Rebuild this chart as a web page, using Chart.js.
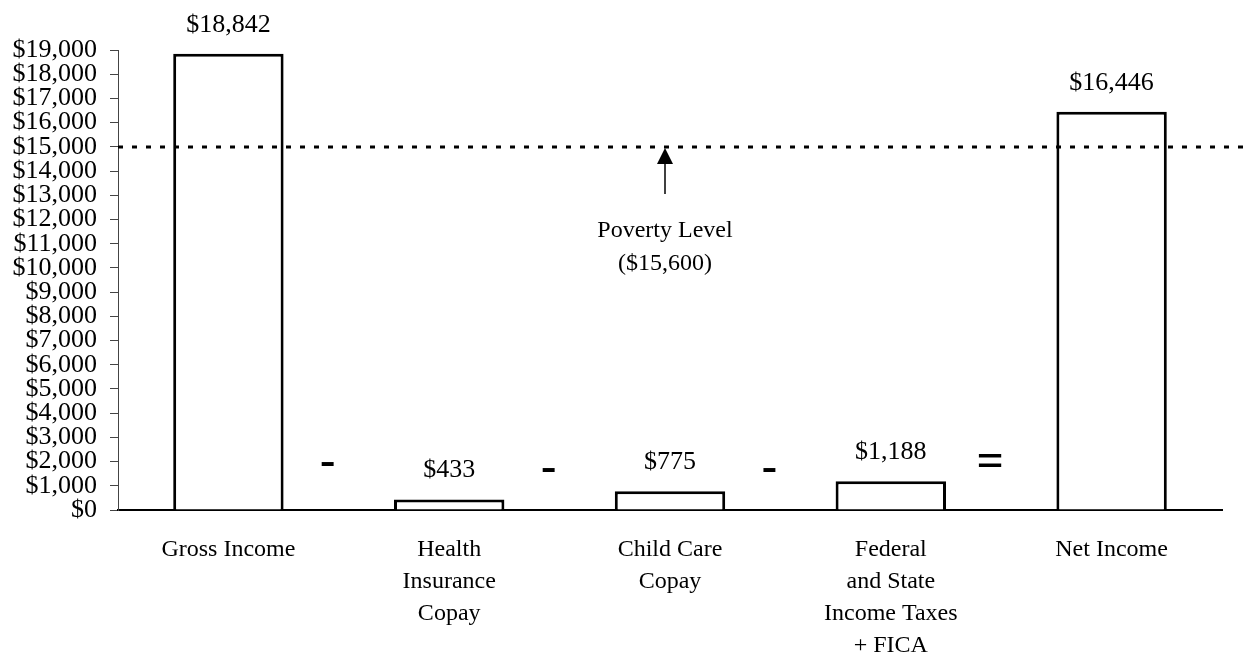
<!DOCTYPE html>
<html>

<head>
  <meta charset="utf-8">
  <title>Gross to Net Income</title>
  <script src="https://cdn.jsdelivr.net/npm/chart.js@4.4.0/dist/chart.umd.min.js"></script>
  <style>
    body { margin: 0; background: #fff; }
    #wrap { width: 1252px; height: 657px; }
  </style>
</head>

<body>
  <div id="wrap"><canvas id="incomeChart"></canvas></div>

  <script>
    const categories = [
      'Gross Income',
      ['Health', 'Insurance', 'Copay'],
      ['Child Care', 'Copay'],
      ['Federal', 'and State', 'Income Taxes', '+ FICA'],
      'Net Income'
    ];
    const amounts = [18842, 433, 775, 1188, 16446];
    const operators = ['-', '-', '-', '='];
    const povertyLine = 15000;
    const povertyText = ['Poverty Level', '($15,600)'];
    const yMax = 19000;
    const yStep = 1000;

    const serif = '"Liberation Serif", "Times New Roman", serif';
    const money = v => '$' + Number(v).toLocaleString('en-US');

    // labels, dotted poverty line, arrow and the - / = signs
    const extras = {
      id: 'extras',
      afterDatasetsDraw(chart) {
        const ctx = chart.ctx;
        const x = chart.scales.x;
        const y = chart.scales.y;
        const area = chart.chartArea;
        ctx.save();

        // value labels
        ctx.fillStyle = '#000';
        ctx.font = '26px ' + serif;
        ctx.textAlign = 'center';
        ctx.textBaseline = 'middle';
        chart.getDatasetMeta(0).data.forEach((bar, i) => {
          ctx.fillText(money(amounts[i]), bar.x, bar.y - 29);
        });

        // dotted poverty line
        const py = Math.round(y.getPixelForValue(povertyLine));
        ctx.strokeStyle = '#000';
        ctx.lineWidth = 3;
        ctx.setLineDash([5, 9]);
        ctx.beginPath();
        ctx.moveTo(area.left, py);
        ctx.lineTo(chart.width, py);
        ctx.stroke();
        ctx.setLineDash([]);

        // arrow + text
        const ax = x.getPixelForValue(2) - 5;
        ctx.lineWidth = 1.5;
        ctx.beginPath();
        ctx.moveTo(ax, py + 14);
        ctx.lineTo(ax, py + 47);
        ctx.stroke();
        ctx.beginPath();
        ctx.moveTo(ax, py + 1);
        ctx.lineTo(ax - 8, py + 17);
        ctx.lineTo(ax + 8, py + 17);
        ctx.closePath();
        ctx.fill();
        ctx.font = '24px ' + serif;
        povertyText.forEach((t, i) => ctx.fillText(t, ax, py + 84 + i * 33));

        // operators between the bars
        operators.forEach((op, i) => {
          const ox = x.getPixelForValue(i + 0.45);
          const oy = op === '=' ? y.getPixelForValue(1900) : y.getPixelForValue(i === 0 ? 1950 : 1700);
          ctx.font = op === '=' ? 'bold 48px ' + serif : 'bold 46px ' + serif;
          ctx.fillText(op, ox, oy);
        });
        ctx.restore();
      }
    };

    const chart = new Chart(document.getElementById('incomeChart'), {
      type: 'bar',
      data: {
        labels: categories,
        datasets: [{
          data: amounts,
          backgroundColor: '#fff',
          borderColor: '#000',
          borderWidth: 3,
          barPercentage: 0.5,
          categoryPercentage: 1
        }]
      },
      options: {
        responsive: true,
        maintainAspectRatio: false,
        animation: false,
        layout: { padding: { top: 50, right: 30, left: 0, bottom: 0 } },
        plugins: {
          legend: { display: false },
          tooltip: { enabled: false }
        },
        scales: {
          x: {
            grid: { display: false, drawTicks: false },
            border: { display: true, color: '#000', width: 2 },
            ticks: {
              color: '#000',
              padding: 24,
              maxRotation: 0,
              autoSkip: false,
              font: { family: serif, size: 24, lineHeight: 1.33 }
            },
            afterFit(scale) { scale.height = 147; }
          },
          y: {
            min: 0,
            max: yMax,
            grid: { drawOnChartArea: false, tickLength: 8, color: '#444', tickWidth: 1 },
            border: { display: true, color: '#444', width: 1 },
            ticks: {
              stepSize: yStep,
              autoSkip: false,
              color: '#000',
              padding: 13,
              font: { family: serif, size: 26 },
              callback: v => money(v)
            },
            afterFit(scale) { scale.width = 118; }
          }
        }
      },
      plugins: [extras]
    });
  </script>
</body>

</html>
